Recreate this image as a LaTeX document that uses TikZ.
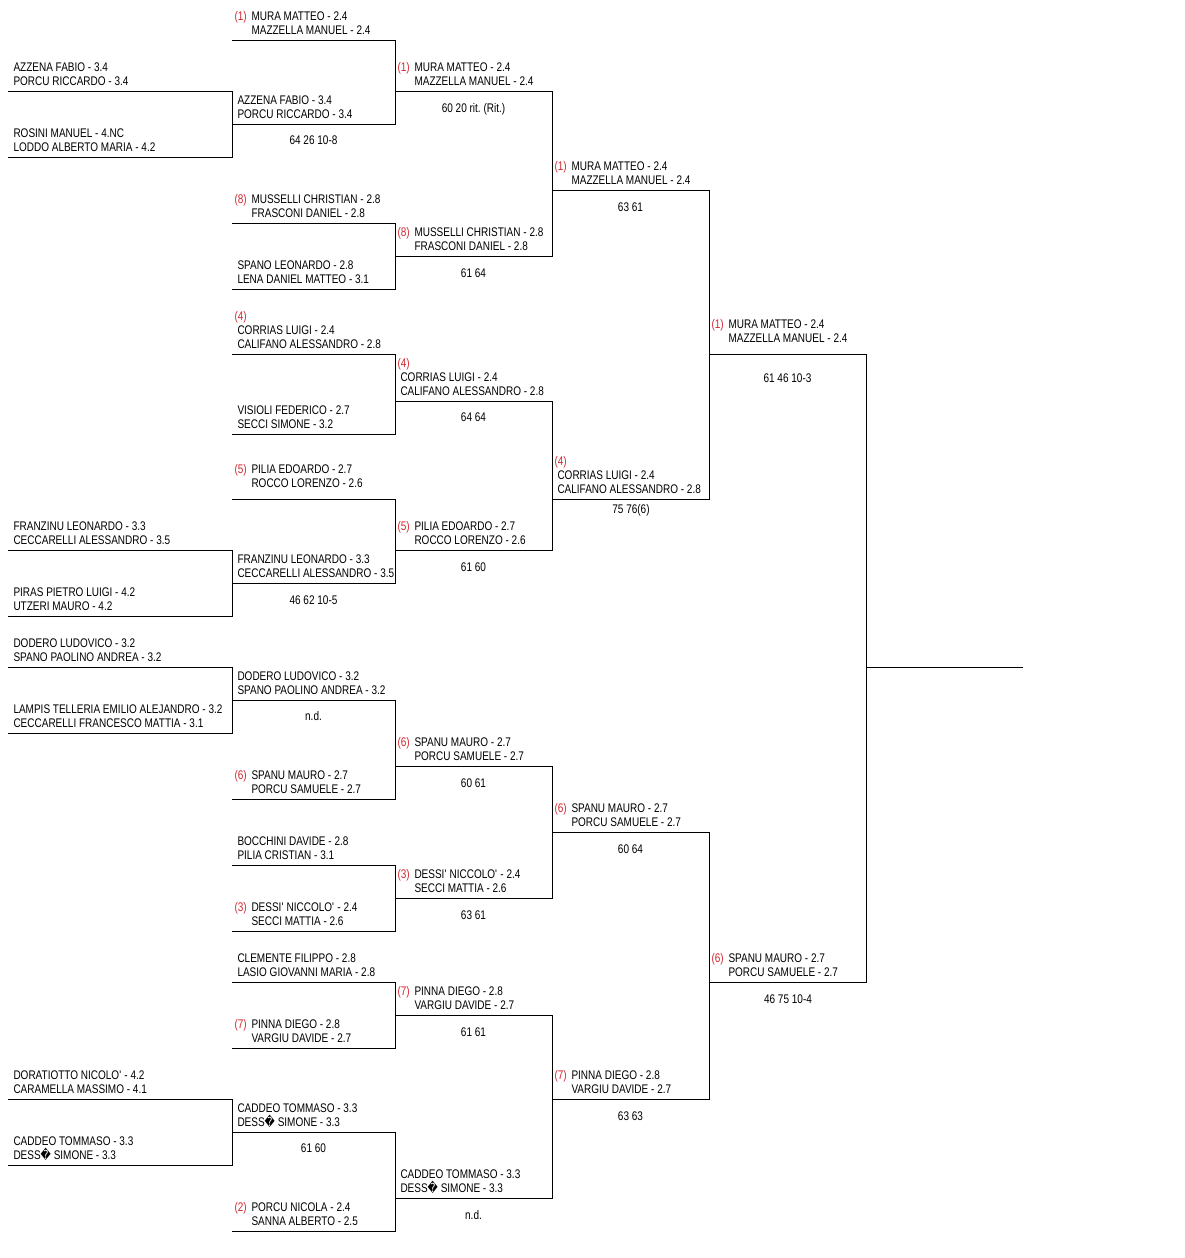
\documentclass[tikz,border=0pt]{standalone}
\usepackage{fontspec}
\setmainfont{Liberation Sans}[FakeStretch=0.8]
\newfontfamily\dvsfont{DejaVu Sans}[FakeStretch=0.8]
\definecolor{seedred}{RGB}{210,40,50}
\newcommand{\qm}{{\dvsfont\char"FFFD\relax}}
\newcommand{\ap}{\textquotesingle}
\frenchspacing
\def\tsh{0}
\tikzset{
  bline/.style={draw=black, line width=1pt, line cap=rect},
  txt/.style={inner sep=0pt, outer sep=0pt, anchor=base west, text=black,
    font=\fontsize{12.5}{14}\selectfont},
  seedtxt/.style={txt, text=seedred},
  score/.style={txt, anchor=base}
}
% plain entry: id, xleft, xright, line y, line1, line2
\newcommand{\plainE}[6]{%
  \coordinate (#1-l) at (#2,#4);
  \coordinate (#1-r) at (#3,#4);
  \draw[bline] (#1-l) -- (#1-r);
  \node[txt] (#1-a) at (#2+5.5,#4-19.3+\tsh) {#5};
  \node[txt] (#1-b) at (#2+5.5,#4-5.3+\tsh) {#6};
}
% seeded entry, seed inline
\newcommand{\seedE}[7]{%
  \coordinate (#1-l) at (#2,#4);
  \coordinate (#1-r) at (#3,#4);
  \draw[bline] (#1-l) -- (#1-r);
  \node[seedtxt] (#1-s) at (#2+2.5,#4-19.3+\tsh) {(#5)};
  \node[txt] (#1-a) at (#2+19.5,#4-19.3+\tsh) {#6};
  \node[txt] (#1-b) at (#2+19.5,#4-5.3+\tsh) {#7};
}
% seeded entry, seed on its own line
\newcommand{\sepE}[7]{%
  \coordinate (#1-l) at (#2,#4);
  \coordinate (#1-r) at (#3,#4);
  \draw[bline] (#1-l) -- (#1-r);
  \node[seedtxt] (#1-s) at (#2+2.5,#4-33.3) {(#5)};
  \node[txt] (#1-a) at (#2+5.5,#4-19.3) {#6};
  \node[txt] (#1-b) at (#2+5.5,#4-5.3) {#7};
}
\begin{document}
\begin{tikzpicture}[x=1pt,y=-1pt]
\useasboundingbox (0,0) rectangle (1184,1258);
\fill[white] (0,0) rectangle (1184,1258);
% ---- round 0
\plainE{z1}{8}{232}{91}{AZZENA FABIO - 3.4}{PORCU RICCARDO - 3.4}
\plainE{z2}{8}{232}{157}{ROSINI MANUEL - 4.NC}{LODDO ALBERTO MARIA - 4.2}
\plainE{z3}{8}{232}{550}{FRANZINU LEONARDO - 3.3}{CECCARELLI ALESSANDRO - 3.5}
\plainE{z4}{8}{232}{616}{PIRAS PIETRO LUIGI - 4.2}{UTZERI MAURO - 4.2}
\plainE{z5}{8}{232}{667}{DODERO LUDOVICO - 3.2}{SPANO PAOLINO ANDREA - 3.2}
\plainE{z6}{8}{232}{733}{LAMPIS TELLERIA EMILIO ALEJANDRO - 3.2}{CECCARELLI FRANCESCO MATTIA - 3.1}
\plainE{z7}{8}{232}{1099}{DORATIOTTO NICOLO\ap{} - 4.2}{CARAMELLA MASSIMO - 4.1}
\plainE{z8}{8}{232}{1165}{CADDEO TOMMASO - 3.3}{DESS\qm{} SIMONE - 3.3}
% ---- round 1
\seedE{a1}{232}{395}{40}{1}{MURA MATTEO - 2.4}{MAZZELLA MANUEL - 2.4}
\plainE{a2}{232}{395}{124}{AZZENA FABIO - 3.4}{PORCU RICCARDO - 3.4}
\seedE{a3}{232}{395}{223}{8}{MUSSELLI CHRISTIAN - 2.8}{FRASCONI DANIEL - 2.8}
\plainE{a4}{232}{395}{289}{SPANO LEONARDO - 2.8}{LENA DANIEL MATTEO - 3.1}
\sepE{a5}{232}{395}{354}{4}{CORRIAS LUIGI - 2.4}{CALIFANO ALESSANDRO - 2.8}
\plainE{a6}{232}{395}{434}{VISIOLI FEDERICO - 2.7}{SECCI SIMONE - 3.2}
\def\tsh{-6}
\seedE{a7}{232}{395}{499}{5}{PILIA EDOARDO - 2.7}{ROCCO LORENZO - 2.6}
\def\tsh{0}
\plainE{a8}{232}{395}{583}{FRANZINU LEONARDO - 3.3}{CECCARELLI ALESSANDRO - 3.5}
\plainE{a9}{232}{395}{700}{DODERO LUDOVICO - 3.2}{SPANO PAOLINO ANDREA - 3.2}
\seedE{a10}{232}{395}{799}{6}{SPANU MAURO - 2.7}{PORCU SAMUELE - 2.7}
\plainE{a11}{232}{395}{865}{BOCCHINI DAVIDE - 2.8}{PILIA CRISTIAN - 3.1}
\seedE{a12}{232}{395}{931}{3}{DESSI\ap{} NICCOLO\ap{} - 2.4}{SECCI MATTIA - 2.6}
\plainE{a13}{232}{395}{982}{CLEMENTE FILIPPO - 2.8}{LASIO GIOVANNI MARIA - 2.8}
\seedE{a14}{232}{395}{1048}{7}{PINNA DIEGO - 2.8}{VARGIU DAVIDE - 2.7}
\plainE{a15}{232}{395}{1132}{CADDEO TOMMASO - 3.3}{DESS\qm{} SIMONE - 3.3}
\seedE{a16}{232}{395}{1231}{2}{PORCU NICOLA - 2.4}{SANNA ALBERTO - 2.5}
% ---- round 2
\seedE{b1}{395}{552}{91}{1}{MURA MATTEO - 2.4}{MAZZELLA MANUEL - 2.4}
\seedE{b2}{395}{552}{256}{8}{MUSSELLI CHRISTIAN - 2.8}{FRASCONI DANIEL - 2.8}
\sepE{b3}{395}{552}{401}{4}{CORRIAS LUIGI - 2.4}{CALIFANO ALESSANDRO - 2.8}
\seedE{b4}{395}{552}{550}{5}{PILIA EDOARDO - 2.7}{ROCCO LORENZO - 2.6}
\seedE{b5}{395}{552}{766}{6}{SPANU MAURO - 2.7}{PORCU SAMUELE - 2.7}
\seedE{b6}{395}{552}{898}{3}{DESSI\ap{} NICCOLO\ap{} - 2.4}{SECCI MATTIA - 2.6}
\seedE{b7}{395}{552}{1015}{7}{PINNA DIEGO - 2.8}{VARGIU DAVIDE - 2.7}
\plainE{b8}{395}{552}{1198}{CADDEO TOMMASO - 3.3}{DESS\qm{} SIMONE - 3.3}
% ---- round 3
\seedE{c1}{552}{709}{190}{1}{MURA MATTEO - 2.4}{MAZZELLA MANUEL - 2.4}
\sepE{c2}{552}{709}{499}{4}{CORRIAS LUIGI - 2.4}{CALIFANO ALESSANDRO - 2.8}
\seedE{c3}{552}{709}{832}{6}{SPANU MAURO - 2.7}{PORCU SAMUELE - 2.7}
\seedE{c4}{552}{709}{1099}{7}{PINNA DIEGO - 2.8}{VARGIU DAVIDE - 2.7}
% ---- round 4
\def\tsh{-6}
\seedE{d1}{709}{866}{354}{1}{MURA MATTEO - 2.4}{MAZZELLA MANUEL - 2.4}
\def\tsh{0}
\seedE{d2}{709}{866}{982}{6}{SPANU MAURO - 2.7}{PORCU SAMUELE - 2.7}
% ---- final
\coordinate (f-l) at (866,667);
\coordinate (f-r) at (1022,667);
\draw[bline] (f-l) -- (f-r);
% ---- vertical connectors
\foreach \u/\v in {z1/z2,z3/z4,z5/z6,z7/z8,
  a1/a2,a3/a4,a5/a6,a7/a8,a9/a10,a11/a12,a13/a14,a15/a16,
  b1/b2,b3/b4,b5/b6,b7/b8,c1/c2,c3/c4,d1/d2}
  \draw[bline] (\u-r) -- (\v-r);
% ---- scores
\node[score] (s1) at (313.5,144.5) {64 26 10-8};
\node[score] (s2) at (313.5,604) {46 62 10-5};
\node[score] (s3) at (313.5,720.5) {n.d.};
\node[score] (s4) at (313.5,1152.5) {61 60};
\node[score] (s5) at (473.5,112) {60 20 rit. (Rit.)};
\node[score] (s6) at (473.5,277) {61 64};
\node[score] (s7) at (473.5,421.5) {64 64};
\node[score] (s8) at (473.5,571) {61 60};
\node[score] (s9) at (473.5,787) {60 61};
\node[score] (s10) at (473.5,919) {63 61};
\node[score] (s11) at (473.5,1036) {61 61};
\node[score] (s12) at (473.5,1219) {n.d.};
\node[score] (s13) at (630.5,211) {63 61};
\node[score] (s14) at (631,513.3) {75 76(6)};
\node[score] (s15) at (630.5,853.3) {60 64};
\node[score] (s16) at (630.5,1120) {63 63};
\node[score] (s17) at (787.5,382) {61 46 10-3};
\node[score] (s18) at (788,1003.3) {46 75 10-4};
\end{tikzpicture}
\end{document}
